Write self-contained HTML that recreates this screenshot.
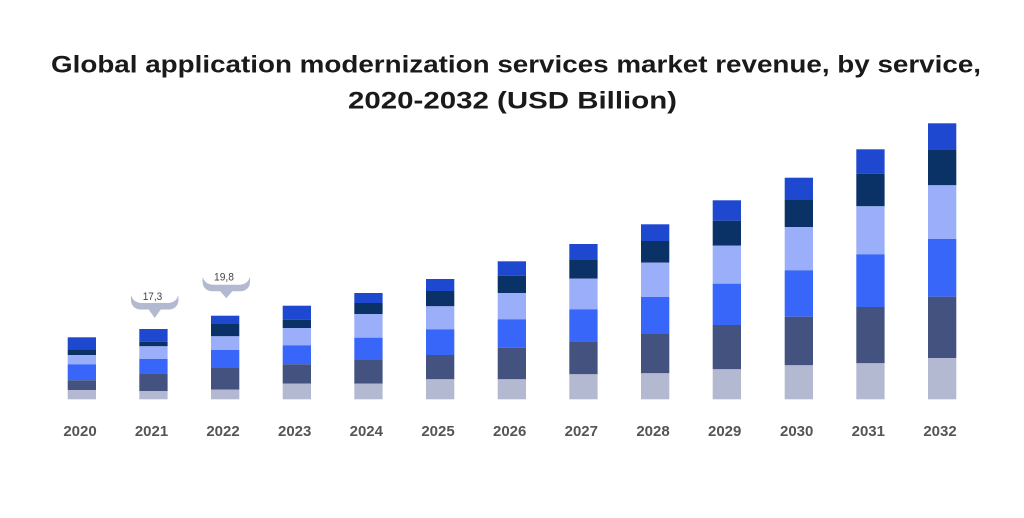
<!DOCTYPE html>
<html><head><meta charset="utf-8"><style>
html,body{margin:0;padding:0;background:#fff;}
svg{display:block;}
.t{font-family:"Liberation Sans",sans-serif;font-weight:bold;fill:#1a1a1a;font-size:24px;}
.y{font-family:"Liberation Sans",sans-serif;font-weight:bold;fill:#555;font-size:15px;}
.c{font-family:"Liberation Sans",sans-serif;fill:#444;font-size:11px;}
.c1{fill:#1f48d0}.c2{fill:#0b3266}.c3{fill:#9aaefa}.c4{fill:#3766f8}.c5{fill:#44527f}.c6{fill:#b3b9d0}
</style></head><body>
<svg width="1024" height="518" viewBox="0 0 1024 518" xmlns="http://www.w3.org/2000/svg">
<rect width="1024" height="518" fill="#fff"/>
<text class="t" x="51" y="72.5" textLength="930" lengthAdjust="spacingAndGlyphs">Global application modernization services market revenue, by service,</text>
<text class="t" x="348" y="108.5" textLength="329" lengthAdjust="spacingAndGlyphs">2020-2032 (USD Billion)</text>

<g transform="translate(67.7,0)"><rect class="c1" y="337.3" width="28.3" height="12"/><rect class="c2" y="349.3" width="28.3" height="5.7"/><rect class="c3" y="355" width="28.3" height="9.3"/><rect class="c4" y="364.3" width="28.3" height="16"/><rect class="c5" y="380.3" width="28.3" height="9.7"/><rect class="c6" y="390" width="28.3" height="9.3"/></g>
<g transform="translate(139.3,0)"><rect class="c1" y="329" width="28.3" height="12.7"/><rect class="c2" y="341.7" width="28.3" height="4.6"/><rect class="c3" y="346.3" width="28.3" height="12.7"/><rect class="c4" y="359" width="28.3" height="14.3"/><rect class="c5" y="373.3" width="28.3" height="17.7"/><rect class="c6" y="391" width="28.3" height="8.3"/></g>
<g transform="translate(211,0)"><rect class="c1" y="315.7" width="28.3" height="8.3"/><rect class="c2" y="324" width="28.3" height="12.3"/><rect class="c3" y="336.3" width="28.3" height="13.7"/><rect class="c4" y="350" width="28.3" height="18"/><rect class="c5" y="368" width="28.3" height="21.7"/><rect class="c6" y="389.7" width="28.3" height="9.6"/></g>
<g transform="translate(282.7,0)"><rect class="c1" y="305.7" width="28.3" height="14"/><rect class="c2" y="319.7" width="28.3" height="8.3"/><rect class="c3" y="328" width="28.3" height="17.3"/><rect class="c4" y="345.3" width="28.3" height="19"/><rect class="c5" y="364.3" width="28.3" height="19.4"/><rect class="c6" y="383.7" width="28.3" height="15.6"/></g>
<g transform="translate(354.3,0)"><rect class="c1" y="293" width="28.3" height="10"/><rect class="c2" y="303" width="28.3" height="11"/><rect class="c3" y="314" width="28.3" height="23.7"/><rect class="c4" y="337.7" width="28.3" height="21.6"/><rect class="c5" y="359.3" width="28.3" height="24.4"/><rect class="c6" y="383.7" width="28.3" height="15.6"/></g>
<g transform="translate(426,0)"><rect class="c1" y="279" width="28.3" height="12"/><rect class="c2" y="291" width="28.3" height="15.3"/><rect class="c3" y="306.3" width="28.3" height="23"/><rect class="c4" y="329.3" width="28.3" height="25.7"/><rect class="c5" y="355" width="28.3" height="24.3"/><rect class="c6" y="379.3" width="28.3" height="20"/></g>
<g transform="translate(497.7,0)"><rect class="c1" y="261.3" width="28.3" height="14.4"/><rect class="c2" y="275.7" width="28.3" height="17.3"/><rect class="c3" y="293" width="28.3" height="26.3"/><rect class="c4" y="319.3" width="28.3" height="28.4"/><rect class="c5" y="347.7" width="28.3" height="31.6"/><rect class="c6" y="379.3" width="28.3" height="20"/></g>
<g transform="translate(569.3,0)"><rect class="c1" y="244" width="28.3" height="16"/><rect class="c2" y="260" width="28.3" height="18.7"/><rect class="c3" y="278.7" width="28.3" height="30.6"/><rect class="c4" y="309.3" width="28.3" height="32"/><rect class="c5" y="341.3" width="28.3" height="33"/><rect class="c6" y="374.3" width="28.3" height="25"/></g>
<g transform="translate(641,0)"><rect class="c1" y="224.3" width="28.3" height="16.7"/><rect class="c2" y="241" width="28.3" height="21.7"/><rect class="c3" y="262.7" width="28.3" height="34.3"/><rect class="c4" y="297" width="28.3" height="37"/><rect class="c5" y="334" width="28.3" height="39.3"/><rect class="c6" y="373.3" width="28.3" height="26"/></g>
<g transform="translate(712.7,0)"><rect class="c1" y="200.3" width="28.3" height="20.4"/><rect class="c2" y="220.7" width="28.3" height="25"/><rect class="c3" y="245.7" width="28.3" height="38"/><rect class="c4" y="283.7" width="28.3" height="41.3"/><rect class="c5" y="325" width="28.3" height="44.3"/><rect class="c6" y="369.3" width="28.3" height="30"/></g>
<g transform="translate(784.7,0)"><rect class="c1" y="177.7" width="28.3" height="21.6"/><rect class="c2" y="199.3" width="28.3" height="27.7"/><rect class="c3" y="227" width="28.3" height="43.3"/><rect class="c4" y="270.3" width="28.3" height="46.4"/><rect class="c5" y="316.7" width="28.3" height="48.6"/><rect class="c6" y="365.3" width="28.3" height="34"/></g>
<g transform="translate(856.3,0)"><rect class="c1" y="149.3" width="28.3" height="24.4"/><rect class="c2" y="173.7" width="28.3" height="32.6"/><rect class="c3" y="206.3" width="28.3" height="48"/><rect class="c4" y="254.3" width="28.3" height="52.7"/><rect class="c5" y="307" width="28.3" height="56.3"/><rect class="c6" y="363.3" width="28.3" height="36"/></g>
<g transform="translate(928,0)"><rect class="c1" y="123.3" width="28.3" height="26.7"/><rect class="c2" y="150" width="28.3" height="35.3"/><rect class="c3" y="185.3" width="28.3" height="53.7"/><rect class="c4" y="239" width="28.3" height="57.7"/><rect class="c5" y="296.7" width="28.3" height="61.3"/><rect class="c6" y="358" width="28.3" height="41.3"/></g>

<!-- callouts -->
<path fill="#b3b9d0" transform="translate(154.7,295)" d="M-23.5,0 Q-22,7 -14,8 L14,8 Q22,7 23.5,0 Q25.5,13 15,14.5 L6,14.5 L0,23 L-6,14.5 L-15,14.5 Q-25.5,13 -23.5,0 Z"/>
<path fill="#b3b9d0" transform="translate(226.3,276.7)" d="M-23.5,0 Q-22,7 -14,8 L14,8 Q22,7 23.5,0 Q25.5,13 15,14.5 L6,14.5 L0,21.6 L-6,14.5 L-15,14.5 Q-25.5,13 -23.5,0 Z"/>
<text class="c" x="142.7" y="300" textLength="19.6" lengthAdjust="spacingAndGlyphs">17,3</text>
<text class="c" x="214" y="280.5" textLength="20" lengthAdjust="spacingAndGlyphs">19,8</text>

<g class="y" text-anchor="middle">
<text x="80" y="436">2020</text>
<text x="151.5" y="436">2021</text>
<text x="223" y="436">2022</text>
<text x="294.7" y="436">2023</text>
<text x="366.3" y="436">2024</text>
<text x="438" y="436">2025</text>
<text x="509.7" y="436">2026</text>
<text x="581.3" y="436">2027</text>
<text x="653" y="436">2028</text>
<text x="724.7" y="436">2029</text>
<text x="796.7" y="436">2030</text>
<text x="868.3" y="436">2031</text>
<text x="940" y="436">2032</text>
</g>
</svg>
</body></html>
